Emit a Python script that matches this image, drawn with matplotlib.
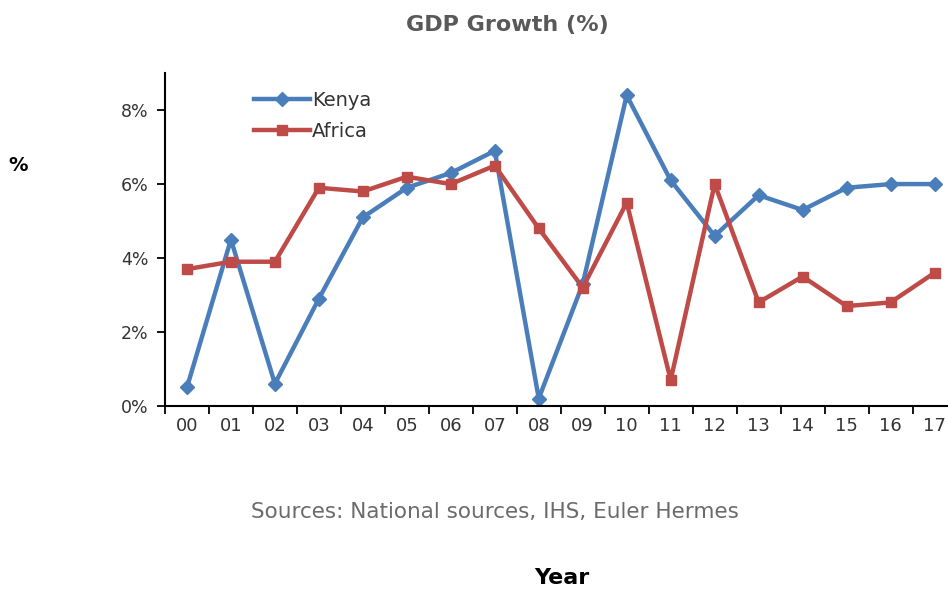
import matplotlib
matplotlib.use('Agg')
import matplotlib.pyplot as plt
import numpy as np

# reference text is wide, DejaVu Sans is closer in width than Arial
plt.rcParams['font.family'] = ['DejaVu Sans']

# data
years = ['00', '01', '02', '03', '04', '05', '06', '07', '08',
         '09', '10', '11', '12', '13', '14', '15', '16', '17']
kenya = [0.5, 4.5, 0.6, 2.9, 5.1, 5.9, 6.3, 6.9, 0.2,
         3.3, 8.4, 6.1, 4.6, 5.7, 5.3, 5.9, 6.0, 6.0]
africa = [3.7, 3.9, 3.9, 5.9, 5.8, 6.2, 6.0, 6.5, 4.8,
          3.2, 5.5, 0.7, 6.0, 2.8, 3.5, 2.7, 2.8, 3.6]
yticks = [0, 2, 4, 6, 8]

blue = '#4a7ebb'
red = '#be4b48'

fig = plt.figure(figsize=(9.48, 5.9), dpi=100)
ax = fig.add_axes([0.174, 0.312, 0.835, 0.564])

x = np.arange(len(years))
ax.plot(x, kenya, color=blue, lw=3.2, marker='D', ms=7, label='Kenya')
ax.plot(x, africa, color=red, lw=3.2, marker='s', ms=7, label='Africa')

ax.set_xlim(-0.5, len(years) - 0.5)
ax.set_ylim(0, 9)

# category labels centred, tick marks between categories
ax.set_xticks(x)
ax.set_xticklabels(years)
ax.tick_params(axis='x', which='major', length=0, pad=8, labelsize=13, labelcolor='#333333')
ax.set_xticks(np.arange(-0.5, len(years)), minor=True)
ax.tick_params(axis='x', which='minor', length=6, width=1.3, direction='out')

ax.set_yticks(yticks)
ax.set_yticklabels([f'{v}%' for v in yticks])
ax.tick_params(axis='y', length=6, width=1.3, direction='out', pad=6, labelsize=12.5, labelcolor='#333333')

for s in ['top', 'right']:
    ax.spines[s].set_visible(False)
for s in ['left', 'bottom']:
    ax.spines[s].set_linewidth(1.5)

ax.legend(loc='upper left', bbox_to_anchor=(0.09, 1.0), frameon=False,
          fontsize=14, handlelength=2.9, handletextpad=0.1, labelspacing=0.65,
          labelcolor='#333333')

fig.text(0.535, 0.958, 'GDP Growth (%)', ha='center', va='center',
         fontsize=16, fontweight='bold', color='#595959')
fig.text(0.522, 0.132, 'Sources: National sources, IHS, Euler Hermes',
         ha='center', va='center', fontsize=15.5, color='#6b6b6b')
fig.text(0.593, 0.02, 'Year', ha='center', va='center',
         fontsize=16, fontweight='bold', color='black')
fig.text(0.019, 0.72, '%', ha='center', va='center',
         fontsize=14, fontweight='bold', color='black')

fig.savefig('out.png', dpi=100)
